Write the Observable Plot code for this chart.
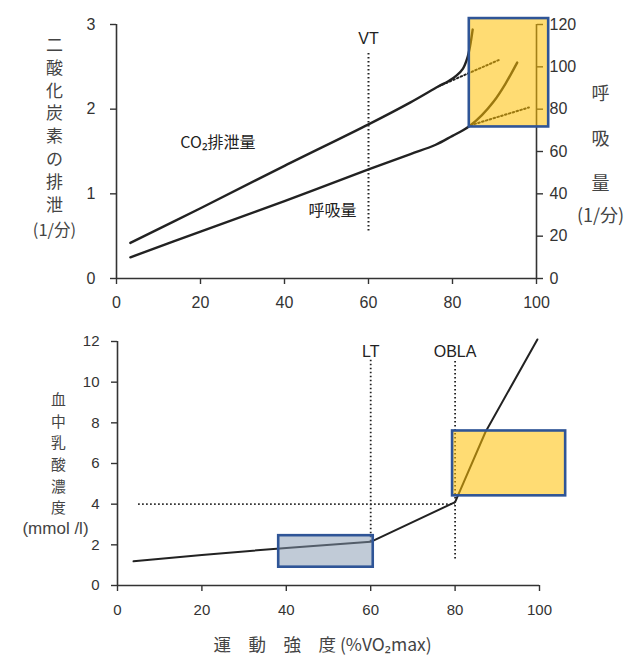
<!DOCTYPE html>
<html>
<head>
<meta charset="utf-8">
<script src="https://cdn.jsdelivr.net/npm/d3@7"></script>
<script src="https://cdn.jsdelivr.net/npm/@observablehq/plot@0.6"></script>
<style>
  html, body { margin: 0; padding: 0; background: #fff; }
  #chart svg { display: block; }
</style>
</head>
<body>
<div id="chart"></div>
<script>
// ---------- data ----------
const xTicks = [0, 20, 40, 60, 80, 100];
const co2Ticks = [0, 1, 2, 3];
const ventTicks = [0, 20, 40, 60, 80, 100, 120];
const ventPerCO2 = 40; // right axis (1/分) per unit of left axis (1/分)
const lactateTicks = [0, 2, 4, 6, 8, 10, 12];

// CO2 excretion (upper line, left axis)
const co2Intensity = [3.3, 20, 40, 60, 70, 76.7, 79, 81, 82.5, 83.5, 84.2, 84.8];
const co2Values    = [0.42, 0.83, 1.33, 1.82, 2.08, 2.27, 2.33, 2.40, 2.48, 2.60, 2.75, 2.94];
// dotted linear extension of CO2
const co2ExtIntensity = [76.7, 91];
const co2ExtValues    = [2.27, 2.58];

// ventilation (lower line, right axis, 1/分)
const ventIntensity = [3.3, 20, 40, 60, 70, 76, 80, 82.5, 84.3, 87, 89.8, 92.6, 95.4];
const ventValues    = [10, 22.2, 36.6, 51.6, 58.8, 63.2, 67.4, 70, 72.4, 77.2, 83.6, 92, 102];
// dotted linear extension of ventilation
const ventExtIntensity = [84.3, 98.2];
const ventExtValues    = [72.4, 80.8];

// ventilatory threshold
const vtIntensity = 60;
const vtRange = [0.56, 2.68];

// blood lactate (bottom panel)
const lactIntensity = [3.8, 20, 40, 60, 80, 87.2, 99.5];
const lactValues    = [1.19, 1.5, 1.85, 2.15, 4.1, 7.55, 12.1];
const oblaLevel = 4;
const oblaLevelFrom = 5;
const ltIntensity = 60;
const ltRange = [2.15, 11.1];
const oblaIntensity = 80;
const oblaRange = [1.3, 11.1];

// highlight boxes
const boxTop   = [{x1: 84.0, x2: 102.9, y1: 1.79, y2: 3.07}];
const boxLow   = [{x1: 79.4, x2: 106.2, y1: 4.41, y2: 7.6}];
const boxBlue  = [{x1: 38.2, x2: 60.6, y1: 0.9, y2: 2.45}];

// texts
const leftTitleTop = ["二", "酸", "化", "炭", "素", "の", "排", "泄"];
const leftUnitTop = "(1/分)";
const rightTitleTop = ["呼", "吸", "量"];
const rightUnitTop = "(1/分)";
const co2Label = "CO₂排泄量";
const ventLabel = "呼吸量";
const leftTitleLow = ["血", "中", "乳", "酸", "濃", "度"];
const leftUnitLow = "(mmol /l)";
const xTitle = "運　動　強　度 (%VO₂max)";

// ---------- build tables ----------
const co2Data = co2Intensity.map((x, i) => ({x, y: co2Values[i]}));
const co2Ext = co2ExtIntensity.map((x, i) => ({x, y: co2ExtValues[i]}));
const ventData = ventIntensity.map((x, i) => ({x, y: ventValues[i] / ventPerCO2}));
const ventExt = ventExtIntensity.map((x, i) => ({x, y: ventExtValues[i] / ventPerCO2}));
const lactData = lactIntensity.map((x, i) => ({x, y: lactValues[i]}));

const CJK = "'Noto Sans CJK JP', 'Noto Sans', sans-serif";
const SANS = "'Liberation Sans', Arial, 'DejaVu Sans', sans-serif";
const INK = "#222";
const TITLE = "#444";
const BOX_STROKE = "#2F5597";
const DOTS = "1.6,2.4";

// vertical stack of characters, one text per character
function stack(chars, frameAnchor, dx, dy0, pitch, fontSize) {
  return chars.map((c, i) => Plot.text([c], {
    frameAnchor, dx, dy: dy0 + i * pitch, textAnchor: "middle", lineAnchor: "middle",
    fontSize, fontFamily: CJK, fill: TITLE
  }));
}

const topPlot = Plot.plot({
  width: 634, height: 310,
  marginLeft: 116, marginRight: 98, marginTop: 24, marginBottom: 32,
  x: {domain: [0, 100]},
  y: {domain: [0, 3]},
  style: {fontFamily: SANS, fontSize: "16px", color: "#333", background: "#fff"},
  marks: [
    // axis lines
    Plot.ruleX([0], {y1: 0, y2: 3, stroke: "#333", strokeWidth: 1.6}),
    Plot.ruleX([100], {y1: 0, y2: 3, stroke: "#333", strokeWidth: 1.6}),
    Plot.ruleY([0], {x1: 0, x2: 100, stroke: "#333", strokeWidth: 1.6}),
    Plot.axisX({ticks: xTicks, tickSize: 6, tickPadding: 12, label: null, strokeWidth: 1.4}),
    Plot.axisY({ticks: co2Ticks, tickFormat: "d", anchor: "left", tickSize: 6, tickPadding: 15, label: null, strokeWidth: 1.4}),
    Plot.axisY({ticks: ventTicks.map(v => v / ventPerCO2), tickFormat: d => Math.round(d * ventPerCO2),
                anchor: "right", tickSize: 6, tickPadding: 7, label: null, strokeWidth: 1.4}),
    // lines
    Plot.line(co2Data, {x: "x", y: "y", curve: "catmull-rom", stroke: INK, strokeWidth: 2.4}),
    Plot.line(ventData, {x: "x", y: "y", curve: "catmull-rom", stroke: INK, strokeWidth: 2.4}),
    Plot.line(co2Ext, {x: "x", y: "y", stroke: INK, strokeWidth: 2, strokeDasharray: DOTS}),
    Plot.line(ventExt, {x: "x", y: "y", stroke: INK, strokeWidth: 2, strokeDasharray: DOTS}),
    Plot.ruleX([vtIntensity], {y1: vtRange[0], y2: vtRange[1], stroke: INK, strokeWidth: 2, strokeDasharray: DOTS}),
    // highlight
    Plot.rect(boxTop, {x1: "x1", x2: "x2", y1: "y1", y2: "y2", fill: "#FFC000", fillOpacity: 0.55,
                       stroke: BOX_STROKE, strokeWidth: 2.6}),
    // labels
    Plot.text(["VT"], {x: vtIntensity, y: 2.835, fontSize: 16, fill: INK}),
    Plot.text([co2Label], {x: 15.2, y: 1.6, textAnchor: "start", fontSize: 16, fontFamily: CJK, fill: INK}),
    Plot.text([ventLabel], {x: 45.7, y: 0.8, textAnchor: "start", fontSize: 16, fontFamily: CJK, fill: INK}),
    // axis titles
    ...stack(leftTitleTop, "top-left", -62, 21, 22.8, 17),
    Plot.text([leftUnitTop], {frameAnchor: "top-left", dx: -62, dy: 206, textAnchor: "middle", lineAnchor: "middle",
                              fontSize: 16.5, fontFamily: CJK, fill: TITLE}),
    ...stack(rightTitleTop, "top-right", 64, 70, 45, 18),
    Plot.text([rightUnitTop], {frameAnchor: "top-right", dx: 64, dy: 192, textAnchor: "middle", lineAnchor: "middle",
                               fontSize: 18, fontFamily: CJK, fill: TITLE})
  ]
});

const lowPlot = Plot.plot({
  width: 634, height: 347,
  marginLeft: 117, marginRight: 95, marginTop: 31, marginBottom: 72,
  x: {domain: [0, 100]},
  y: {domain: [0, 12]},
  style: {fontFamily: SANS, fontSize: "15px", color: "#333", background: "#fff"},
  marks: [
    Plot.ruleX([0], {y1: 0, y2: 12, stroke: "#333", strokeWidth: 1.6}),
    Plot.ruleY([0], {x1: 0, x2: 100, stroke: "#333", strokeWidth: 1.6}),
    Plot.axisX({ticks: xTicks, tickSize: 6, tickPadding: 13, label: null, strokeWidth: 1.4}),
    Plot.axisY({ticks: lactateTicks, anchor: "left", tickSize: 6, tickPadding: 12, label: null, strokeWidth: 1.4}),
    // lactate curve
    Plot.line(lactData, {x: "x", y: "y", stroke: INK, strokeWidth: 2}),
    // dotted guides
    Plot.ruleY([oblaLevel], {x1: oblaLevelFrom, x2: oblaIntensity, stroke: INK, strokeWidth: 1.8, strokeDasharray: DOTS}),
    Plot.ruleX([ltIntensity], {y1: ltRange[0], y2: ltRange[1], stroke: INK, strokeWidth: 1.8, strokeDasharray: DOTS}),
    Plot.ruleX([oblaIntensity], {y1: oblaRange[0], y2: oblaRange[1], stroke: INK, strokeWidth: 1.8, strokeDasharray: DOTS}),
    // highlights
    Plot.rect(boxBlue, {x1: "x1", x2: "x2", y1: "y1", y2: "y2", fill: "#8497B0", fillOpacity: 0.5,
                        stroke: BOX_STROKE, strokeWidth: 2.6}),
    Plot.rect(boxLow, {x1: "x1", x2: "x2", y1: "y1", y2: "y2", fill: "#FFC000", fillOpacity: 0.55,
                       stroke: BOX_STROKE, strokeWidth: 2.6}),
    // labels
    Plot.text(["LT"], {x: ltIntensity, y: 11.5, fontSize: 16, fill: INK}),
    Plot.text(["OBLA"], {x: oblaIntensity, y: 11.5, fontSize: 16, fill: INK}),
    // axis titles
    ...stack(leftTitleLow, "top-left", -59, 59, 21.6, 14.8),
    Plot.text([leftUnitLow], {frameAnchor: "top-left", dx: -62, dy: 187, textAnchor: "middle", lineAnchor: "middle",
                              fontSize: 17, fontFamily: SANS, fill: TITLE}),
    Plot.text([xTitle], {frameAnchor: "bottom-left", dx: 96, dy: 60, textAnchor: "start", lineAnchor: "middle",
                         fontSize: 17.5, fontFamily: CJK, fill: TITLE})
  ]
});

const root = document.getElementById("chart");
root.appendChild(topPlot);
root.appendChild(lowPlot);
</script>
</body>
</html>
